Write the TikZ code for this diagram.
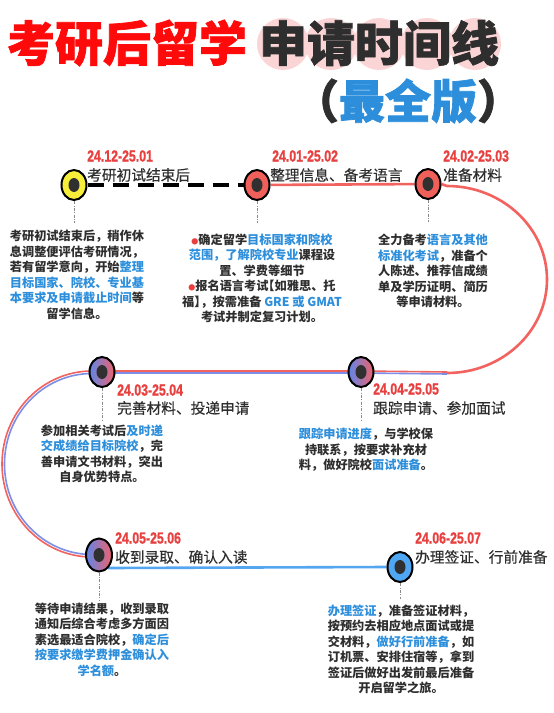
\documentclass[tikz,border=0pt]{standalone}
\usepackage{fontspec}
\setmainfont{Noto Sans CJK SC}
\newfontfamily\datefont{Liberation Sans}[BoldFeatures={FakeBold=1.2}]
\newfontfamily\heavyfont{Noto Sans CJK SC}[BoldFeatures={FakeBold=1.5}]
\newfontfamily\stepfont{Noto Sans CJK SC}[UprightFeatures={FakeBold=0.4}]
\usetikzlibrary{shapes.geometric}
\definecolor{titleRed}{HTML}{FF0A0A}
\definecolor{dark}{HTML}{2E2E2E}
\definecolor{hl}{HTML}{2D8FDC}
\definecolor{dateRed}{HTML}{E8403F}
\definecolor{lineRed}{HTML}{F2625F}
\definecolor{lineBlue}{HTML}{55A6F0}
\definecolor{lineViolet}{HTML}{7E8EE6}
\definecolor{blob}{HTML}{FBD4D5}
\definecolor{mkYellow}{HTML}{F6EE3A}
\definecolor{mkRed}{HTML}{F0605A}
\definecolor{mkBlue}{HTML}{4FA6F2}
\definecolor{gBlue}{HTML}{5E86E8}
\definecolor{gRed}{HTML}{F0626C}
\definecolor{dotc}{HTML}{303030}
\definecolor{vgray}{HTML}{8A8A8A}
\pgfdeclarelayer{bg}
\pgfsetlayers{bg,main}
\tikzset{
  marker/.style={ellipse, draw=black, line width=2pt, minimum width=25pt, minimum height=30pt, inner sep=0pt,
    path picture={\fill[dotc] (path picture bounding box.center) ellipse (5.5pt and 7pt);}},
  gradmk/.style={marker, left color=gBlue, right color=gRed},
  datelbl/.style={anchor=west, inner sep=0pt, text=dateRed, font=\datefont\bfseries\fontsize{16}{16}\selectfont},
  steptitle/.style={anchor=west, inner sep=0pt, text=dark, font=\stepfont\fontsize{14.7}{16}\selectfont},
  bodytext/.style={align=center, inner sep=0pt, text=dark, font=\bfseries\fontsize{12.2}{15.5}\selectfont},
  dashline/.style={black, line width=3.5pt, dash pattern=on 16pt off 9pt},
  redline/.style={lineRed, line width=2.6pt},
  thinred/.style={lineRed, line width=1.6pt},
  thinblue/.style={lineViolet, line width=1.6pt},
  blueline/.style={lineBlue, line width=2.6pt},
  vline/.style={vgray, line width=0.9pt, dash pattern=on 3pt off 1.5pt on 0.8pt off 1.5pt},
}
\newcommand{\hlt}[1]{\textcolor{hl}{#1}}
\newcommand{\dt}[1]{\scalebox{0.77}[1]{#1}}
\newcommand{\rdot}{\textcolor{dateRed}{\fontsize{7}{7}\selectfont ●}}
\begin{document}
\begin{tikzpicture}[x=1pt,y=-1pt]
\begin{pgfonlayer}{bg}
\fill[white] (0,0) rectangle (554,713);
\end{pgfonlayer}
\useasboundingbox (0,0) rectangle (554,713);

% title
\foreach \cx in {283,331,379,427,475} \fill[blob] (\cx,44) circle (26pt);
\node[font=\heavyfont\bfseries\fontsize{48}{48}\selectfont, text=titleRed, inner sep=0pt] (title1) at (127,43) {考研后留学};
\node[font=\heavyfont\bfseries\fontsize{48}{48}\selectfont, text=dark, inner sep=0pt] (title2) at (379,43) {申请时间线};
\node[font=\heavyfont\bfseries\fontsize{46}{46}\selectfont, text=dark, inner sep=0pt] (title3) at (408,101) {（\textcolor{hl}{最全版}）};

% markers
\node[marker, fill=mkYellow] (n1) at (74,185) {};
\node[marker, fill=mkRed] (n2) at (257,185) {};
\node[marker, fill=mkRed] (n3) at (428,184) {};
\node[gradmk] (n4) at (102,372) {};
\node[gradmk] (n5) at (361,372) {};
\node[gradmk, minimum height=33pt, minimum width=26pt] (n6) at (99,555) {};
\node[marker, fill=mkBlue] (n7) at (400,567) {};

% connectors
\begin{pgfonlayer}{bg}
\draw[dashline] (n1) -- (n2);
\draw[redline] (n2) -- (n3);
\draw[redline] (n3.east) -- (447,186) arc[start angle=90, end angle=-90, x radius=100pt, y radius=93.5pt] coordinate (aR);
\draw[thinred] ([yshift=1pt]aR) -- ([yshift=1pt]n5.center);
\draw[thinblue] ([yshift=-1pt]aR) -- ([yshift=-1pt]n5.center);
\draw[thinred] ([yshift=1pt]n5.center) -- ([yshift=1pt]n4.center);
\draw[thinblue] ([yshift=-1pt]n5.center) -- ([yshift=-1pt]n4.center);
\draw[thinred] ([yshift=1pt]n4.center) -- (92,371) arc[start angle=90, end angle=270, x radius=90pt, y radius=93pt] -- (n6.center);
\draw[thinblue] ([yshift=-1pt]n4.center) -- (92,373.5) arc[start angle=90, end angle=270, x radius=87.5pt, y radius=90.5pt] -- (n6.center);
\draw[blueline] ([shift={(9,13)}]n6.center) -- (n7.west);
\draw[vline] (n1.south) -- ++(0,22);
\draw[vline] (n2.south) -- ++(0,22);
\draw[vline] (n3.south) -- ++(0,22);
\draw[vline] (n4.south) -- ++(0,33);
\draw[vline] (n5.south) -- ++(0,33);
\draw[vline] (n6.south) -- ++(0,28);
\draw[vline] (n7.south) -- ++(0,16);
\end{pgfonlayer}

% dates and step titles
\node[datelbl] (d1) at (87,156) {\dt{24.12-25.01}};
\node[steptitle] (s1) at (87,175) {考研初试结束后};
\node[datelbl] (d2) at (272,156) {\dt{24.01-25.02}};
\node[steptitle] (s2) at (270,175) {整理信息、备考语言};
\node[datelbl] (d3) at (443,156) {\dt{24.02-25.03}};
\node[steptitle] (s3) at (443,175) {准备材料};
\node[datelbl] (d4) at (117,390) {\dt{24.03-25.04}};
\node[steptitle] (s4) at (117,408) {完善材料、投递申请};
\node[datelbl] (d5) at (373,389) {\dt{24.04-25.05}};
\node[steptitle] (s5) at (373,408) {跟踪申请、参加面试};
\node[datelbl] (d6) at (115,538) {\dt{24.05-25.06}};
\node[steptitle] (s6) at (115,557) {收到录取、确认入读};
\node[datelbl] (d7) at (415,538) {\dt{24.06-25.07}};
\node[steptitle] (s7) at (415,557) {办理签证、行前准备};

% body texts
\node[bodytext] (b1) at (77,275) {考研初试结束后，稍作休\\息调整便评估考研情况，\\若有留学意向，开始\hlt{整理}\\\hlt{目标国家、院校、专业基}\\\hlt{本要求及申请截止时间}等\\留学信息。};
\node[bodytext] (b2) at (262,278.5) {\rdot 确定留学\hlt{目标国家和院校}\\\hlt{范围，了解院校专业}课程设\\置、学费等细节\\\rdot 报名语言考试\kern-0.5em【如雅思、托\\福】\kern-0.5em，按需准备 \hlt{GRE 或 GMAT}\\考试并制定复习计划。};
\node[bodytext] (b3) at (433,271) {全力备考\hlt{语言及其他}\\\hlt{标准化考试}，准备个\\人陈述、推荐信成绩\\单及学历证明、简历\\等申请材料。};
\node[bodytext] (b4) at (102,454) {参加相关考试后\hlt{及时递}\\\hlt{交成绩给目标院校}，完\\善申请文书材料，突出\\自身优势特点。};
\node[bodytext] (b5) at (366,450) {\hlt{跟踪申请进度}，与学校保\\持联系，按要求补充材\\料，做好院校\hlt{面试准备}。};
\node[bodytext] (b6) at (102,639.5) {等待申请结果，收到录取\\通知后综合考虑多方面因\\素选最适合院校，\hlt{确定后}\\\hlt{按要求缴学费押金确认入}\\\hlt{学名额}。};
\node[bodytext] (b7) at (401,649.5) {\hlt{办理签证}，准备签证材料，\\按预约去相应地点面试或提\\交材料，\hlt{做好行前准备}，如\\订机票、安排住宿等，拿到\\签证后做好出发前最后准备\\开启留学之旅。};
\end{tikzpicture}
\end{document}
